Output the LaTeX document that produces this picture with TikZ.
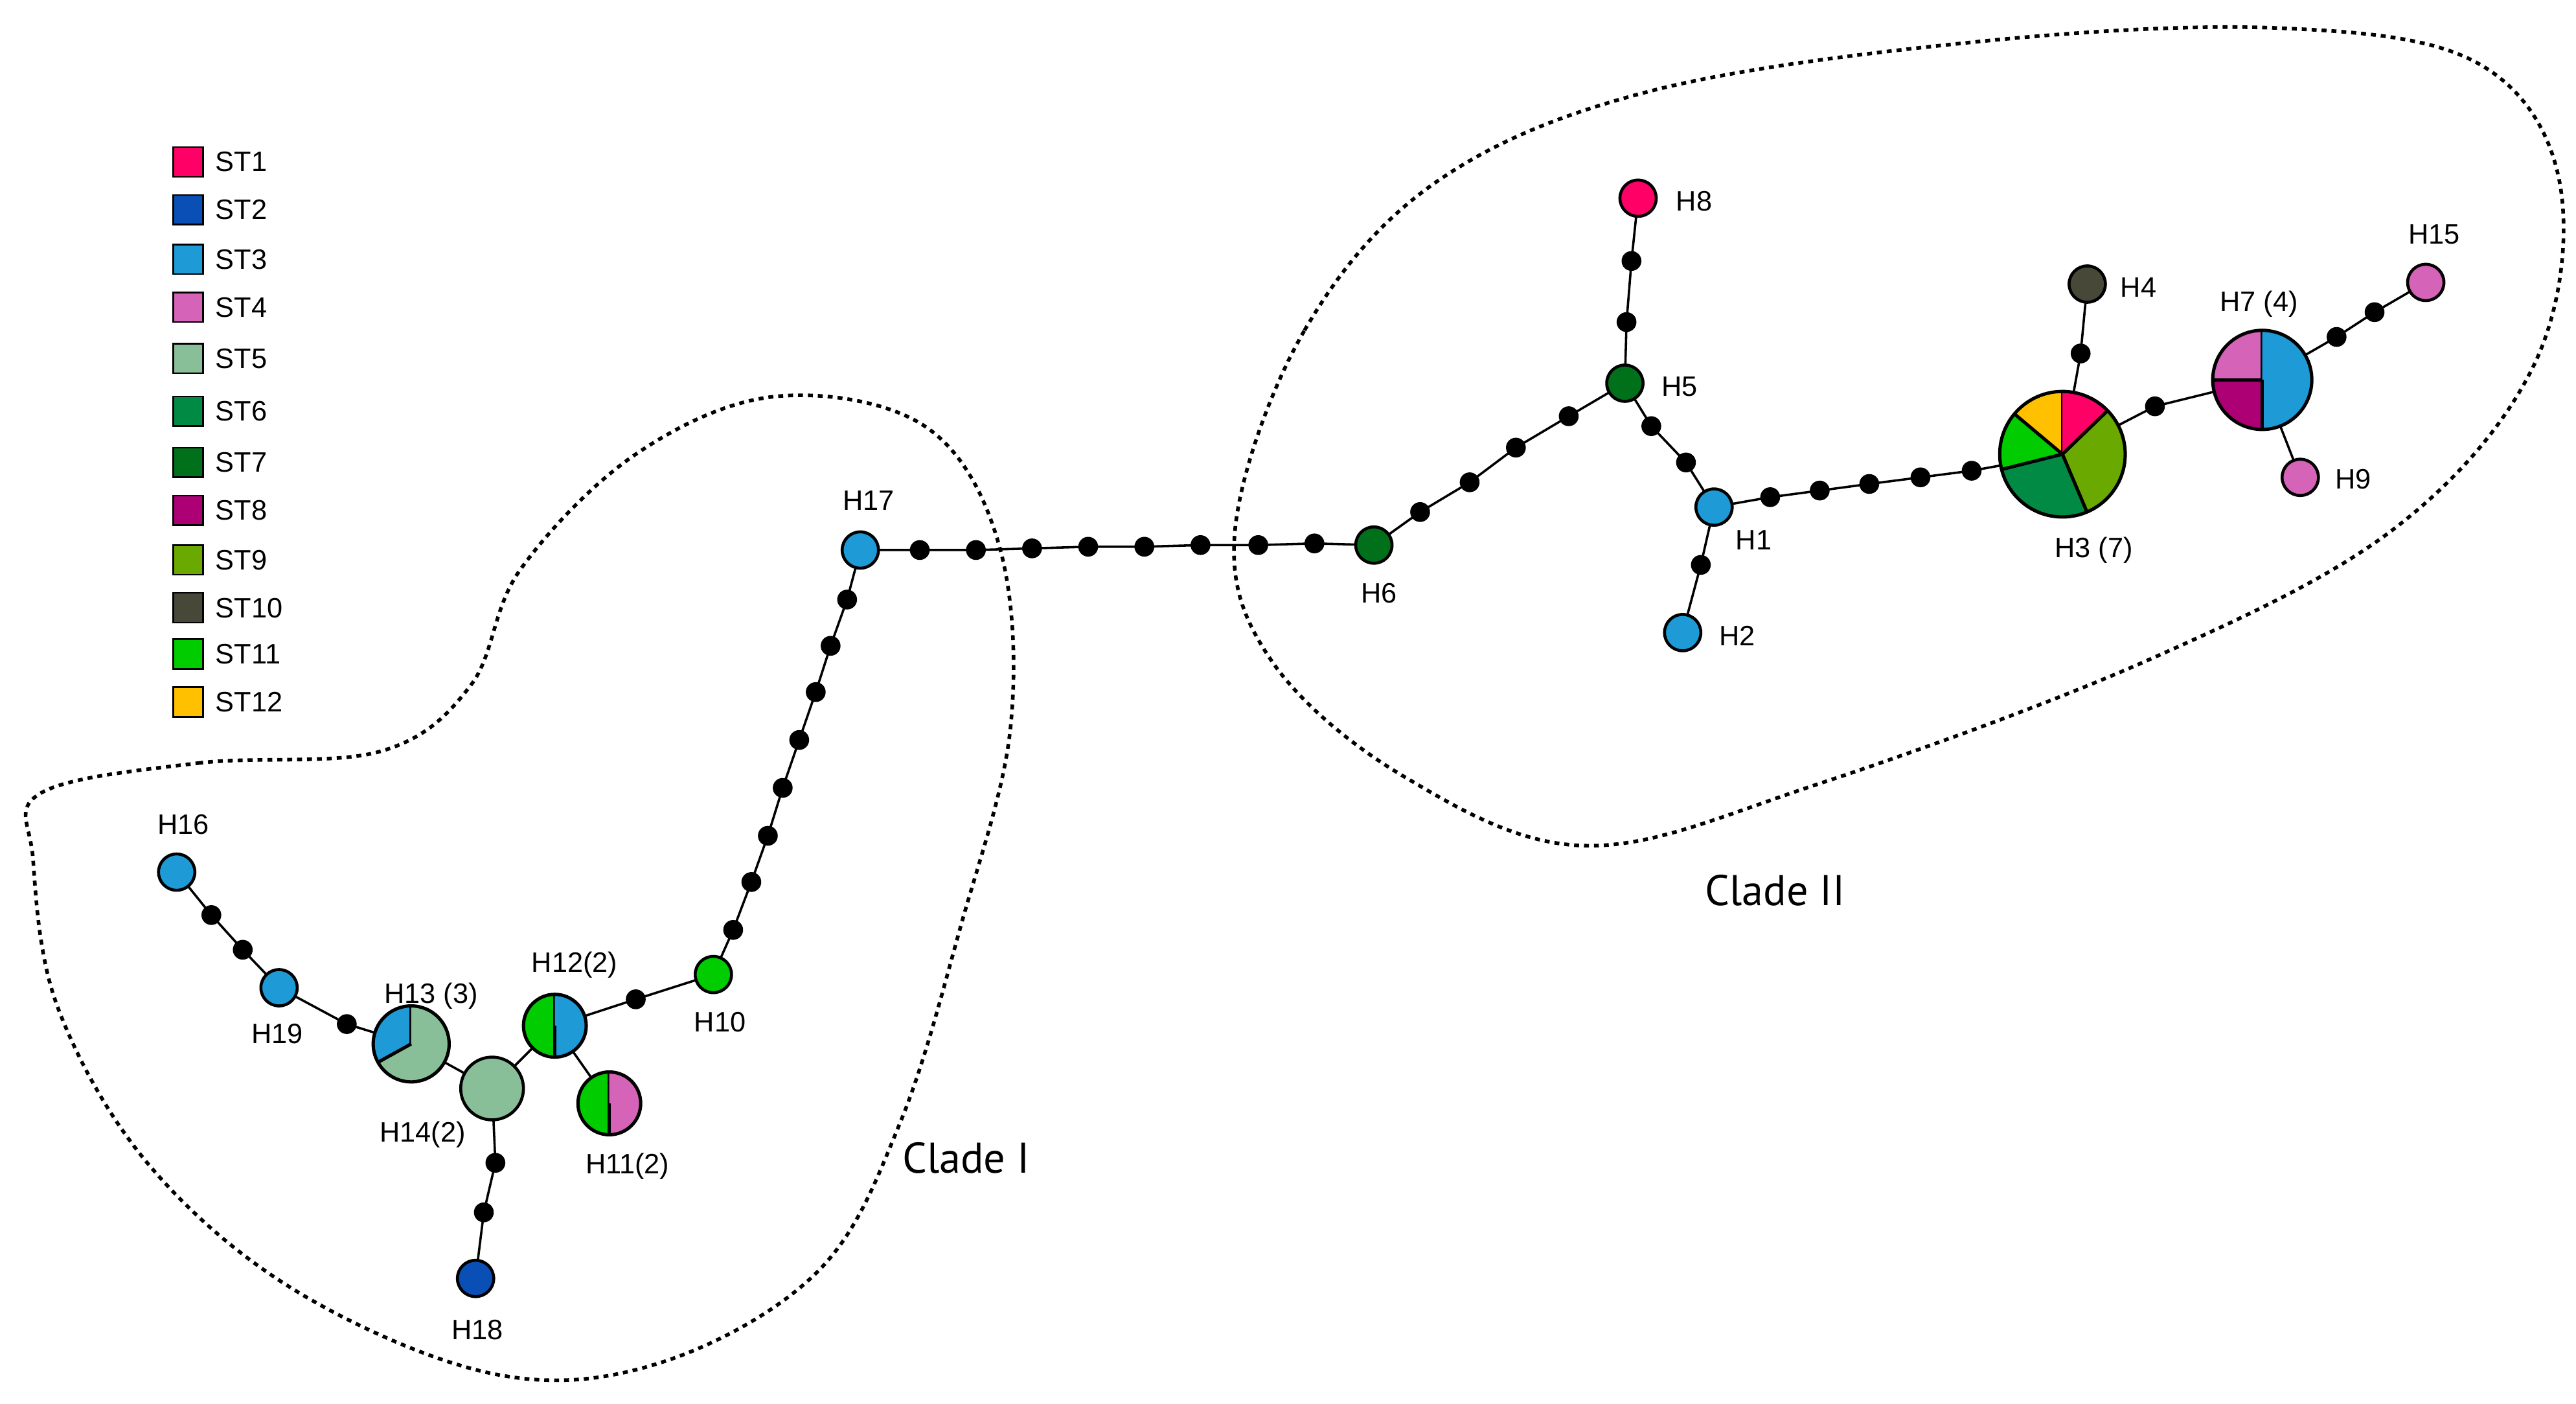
\documentclass[tikz,border=0pt]{standalone}
\usepackage{fontspec}
\setmainfont{Liberation Sans}
\newfontfamily\cladefont{PT Sans}
\begin{document}
\begin{tikzpicture}[x=1pt,y=-1pt,
  edge/.style={line width=1.4pt},
  pie/.style={line width=2pt},
  hap/.style={circle,draw,line width=1.8pt,inner sep=0pt,minimum size=22pt},
  mv/.style={circle,fill=black,inner sep=0pt,minimum size=12pt},
  lab/.style={font=\fontsize{17}{19}\selectfont},
  clade/.style={font=\cladefont\fontsize{26}{28}\selectfont},
  leg/.style={draw,line width=1pt,minimum size=18pt,inner sep=0pt},
  hull/.style={line width=2.2pt,dash pattern=on 3pt off 3pt}]
\definecolor{c1}{HTML}{FF0066}\definecolor{c2}{HTML}{0A4FB5}\definecolor{c3}{HTML}{1E9BD7}
\definecolor{c4}{HTML}{D563B8}\definecolor{c5}{HTML}{88BF98}\definecolor{c6}{HTML}{008A43}
\definecolor{c7}{HTML}{00701A}\definecolor{c8}{HTML}{AD0075}\definecolor{c9}{HTML}{6AAA00}
\definecolor{c10}{HTML}{474838}\definecolor{c11}{HTML}{00CC00}\definecolor{c12}{HTML}{FFC000}
\newcommand\mypie[3]{\begin{scope}[shift={(#1)},yscale=-1]
 \foreach \a/\b/\c in {#3}{\fill[\c] (0,0) -- (\a:#2) arc[start angle=\a,end angle=\b,radius=#2] -- cycle; \draw[pie] (0,0)--(\a:#2);}
 \draw[pie] (0,0) circle[radius=#2];\end{scope}}
\useasboundingbox (0,0) rectangle (1560,850);
% hulls
\draw[hull] plot[smooth cycle,tension=0.6] coordinates {(748,320) (790,200) (870,110) (1000,55) (1200,25) (1380,17) (1500,38) (1550,110) (1535,220) (1450,320) (1300,400) (1100,475) (960,512) (850,470) (770,400)};
\draw[hull] plot[smooth cycle,tension=0.6] coordinates {(25,480) (120,462) (230,455) (285,415) (315,345) (385,275) (470,240) (560,258) (605,330) (612,440) (582,560) (545,680) (495,770) (400,825) (300,832) (180,782) (90,705) (35,610) (20,520)};
% coordinates
\foreach \n/\x/\y in {H8/992/120,H5/984/232,H6/832/330,H1/1038/307,H2/1019/383,H4/1264/172,H15/1469/171,H9/1393/289,H17/521/333,H10/432/590,H16/107/528,H19/169/598,H18/288/774,H3/1249/275,H7/1370/230,H13/249/632,H14/298/659,H12/336/621,H11/369/668}
  \coordinate (\n) at (\x,\y);
\foreach \n/\x/\y in {a1/988/158,a2/985/195,b1/950/252,b2/918/271,b3/890/292,b4/860/310,c1/1000/258,c2/1021/280,d1/1030/342,e1/1072/301,e2/1102/297,e3/1132/293,e4/1163/289,e5/1194/285,f1/1260/214,g1/1305/246,h1/1415/204,h2/1438/189,i1/796/329,i2/762/330,i3/727/330,i4/693/331,i5/659/331,i6/625/332,i7/591/333,i8/557/333,j1/513/363,j2/503/391,j3/494/419,j4/484/448,j5/474/477,j6/465/506,j7/455/534,j8/444/563,k1/385/605,l1/128/554,l2/147/575,m1/210/620,n1/300/704,n2/293/734}
  \coordinate (\n) at (\x,\y);
% edges
\draw[edge] (H8)--(a1)--(a2)--(H5)--(b1)--(b2)--(b3)--(b4)--(H6);
\draw[edge] (H5)--(c1)--(c2)--(H1)--(d1)--(H2);
\draw[edge] (H1)--(e1)--(e2)--(e3)--(e4)--(e5)--(H3)--(f1)--(H4);
\draw[edge] (H3)--(g1)--(H7)--(h1)--(h2)--(H15); \draw[edge] (H7)--(H9);
\draw[edge] (H6)--(i1)--(i2)--(i3)--(i4)--(i5)--(i6)--(i7)--(i8)--(H17)--(j1)--(j2)--(j3)--(j4)--(j5)--(j6)--(j7)--(j8)--(H10)--(k1)--(H12)--(H14)--(H13)--(m1)--(H19)--(l2)--(l1)--(H16);
\draw[edge] (H12)--(H11); \draw[edge] (H14)--(n1)--(n2)--(H18);
% mutation dots
\foreach \n in {a1,a2,b1,b2,b3,b4,c1,c2,d1,e1,e2,e3,e4,e5,f1,g1,h1,h2,i1,i2,i3,i4,i5,i6,i7,i8,j1,j2,j3,j4,j5,j6,j7,j8,k1,l1,l2,m1,n1,n2}
  \node[mv] (m\n) at (\n) {};
% haplotypes
\node[hap,fill=c1] (nH8) at (H8) {};
\node[hap,fill=c7] (nH5) at (H5) {};
\node[hap,fill=c7] (nH6) at (H6) {};
\node[hap,fill=c3] (nH1) at (H1) {};
\node[hap,fill=c3] (nH2) at (H2) {};
\node[hap,fill=c10] (nH4) at (H4) {};
\node[hap,fill=c4] (nH15) at (H15) {};
\node[hap,fill=c4] (nH9) at (H9) {};
\node[hap,fill=c3] (nH17) at (H17) {};
\node[hap,fill=c11] (nH10) at (H10) {};
\node[hap,fill=c3] (nH16) at (H16) {};
\node[hap,fill=c3] (nH19) at (H19) {};
\node[hap,fill=c2] (nH18) at (H18) {};
\node[hap,fill=c5,minimum size=38pt] (nH14) at (H14) {};
\mypie{H3}{38}{90/140/c12,140/194/c11,194/293/c6,293/404/c9,404/450/c1}
\mypie{H7}{30}{90/180/c4,180/270/c8,270/450/c3}
\mypie{H13}{23}{90/209/c3,209/450/c5}
\mypie{H12}{19}{90/270/c11,270/450/c3}
\mypie{H11}{19}{90/270/c11,270/450/c4}
% labels
\foreach \n/\x/\y/\t in {l8/1026/122/H8,l5/1017/234/H5,l6/835/359/H6,l1/1062/327/H1,l2/1052/385/H2,l4/1295/174/H4,l7/1368/184/H7 (4),l15/1474/142/H15,l9/1425/290/H9,l3/1268/333/H3 (7),l17/526/303/H17,l10/436/619/H10,l16/111/499/H16,l19/168/626/H19,l13/261/603/H13 (3),l12/348/584/H12(2),l14/256/687/H14(2),l11/380/706/H11(2),l18/289/805/H18}
  \node[lab] (\n) at (\x,\y) {\t};
\node[clade] (cII) at (1075,539) {Clade II};
\node[clade] (cI) at (585,701) {Clade I};
% legend
\foreach \i/\y in {1/98,2/127,3/157,4/186,5/217,6/249,7/280,8/309,9/339,10/368,11/396,12/425}{
  \node[leg,fill=c\i] (s\i) at (114,\y) {};
  \node[lab,anchor=west] (t\i) at (127,\y) {ST\i};}
\end{tikzpicture}
\end{document}
